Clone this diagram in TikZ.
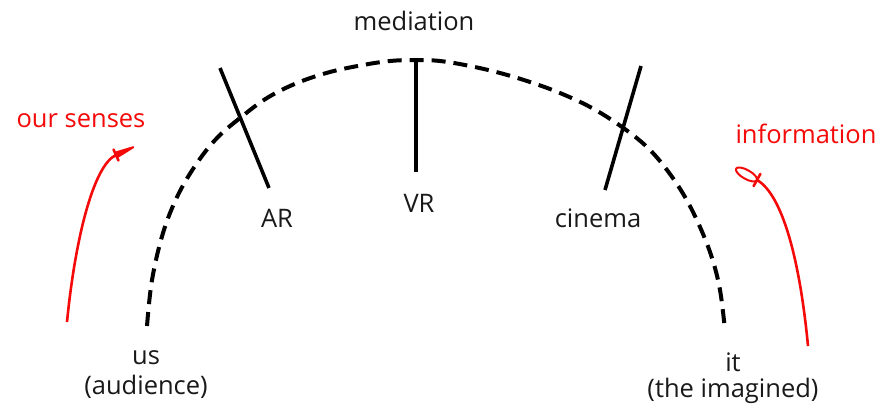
\documentclass[tikz,border=0pt]{standalone}
\usepackage{fontspec}
\setmainfont{Open Sans}
\definecolor{myred}{RGB}{245,10,10}
\definecolor{mytext}{RGB}{25,25,25}
\tikzset{
  lbl/.style={font=\fontsize{25.5}{30}\selectfont, text=mytext, inner sep=0pt, align=center},
  rlbl/.style={font=\fontsize{25.5}{30}\selectfont, text=myred, inner sep=0pt},
  arcline/.style={line width=4pt, dash pattern=on 14pt off 8pt},
  tick/.style={line width=3.6pt},
  redline/.style={myred, line width=2.6pt},
  redhead/.style={myred, line width=2pt, line join=round}
}
\begin{document}
\begin{tikzpicture}[x=1pt,y=-1pt]
\useasboundingbox (0,0) rectangle (880,408);
% dashed arc
\draw[arcline] plot[smooth, tension=0.6] coordinates {(147,326) (152,280) (163,233) (178,195) (197,163) (217,138) (240,118) (267,98) (297,83) (330,72) (363,65) (390,61) (415,60) (440,61) (470,66) (500,73) (530,82) (560,93) (592,108) (622,127) (647,147) (667,170) (685,197) (700,227) (712,258) (720,290) (725,330)};
% crossing lines
\coordinate (ar1) at (220,68);
\coordinate (ar2) at (269,188);
\coordinate (vr1) at (416,59);
\coordinate (vr2) at (416,172);
\coordinate (ci1) at (641,66);
\coordinate (ci2) at (605,190);
\draw[tick] (ar1) -- (ar2);
\draw[tick] (vr1) -- (vr2);
\draw[tick] (ci1) -- (ci2);
% labels
\node[lbl] (med) at (414,21) {mediation};
\node[lbl] (ar) at (277,218) {AR};
\node[lbl] (vr) at (419,203) {VR};
\node[lbl] (cin) at (598,218) {cinema};
\node[lbl] (us) at (146,358) {us};
\node[lbl] (aud) at (146,387) {(audience)};
\node[lbl] (it) at (733,362) {it};
\node[lbl] (img) at (733,391) {(the imagined)};
\node[rlbl] (sen) at (81,121) {our senses};
\node[rlbl] (inf) at (806,134) {information};
% left red arrow
\coordinate (ls) at (67,322);
\coordinate (lt) at (116,155);
\coordinate (ltip) at (133.3,147.2);
\coordinate (lk1) at (117,157.3);
\coordinate (lk2) at (115,152.7);
\coordinate (lb1) at (118.5,160.5);
\coordinate (lb2) at (113.5,149.5);
\draw[redline] (ls) .. controls (75,240) and (93.3,165.3) .. (lt);
\filldraw[redhead] (lk1) -- (ltip) -- (lk2) -- cycle;
\draw[redline, line cap=round] (lb1) -- (lb2);
% right red arrow
\coordinate (rs) at (808,346);
\coordinate (rt) at (757,180);
\coordinate (rb1) at (760.4,173.9);
\coordinate (rb2) at (753.6,186.1);
\draw[redline] (rs) .. controls (800,262) and (783,195) .. (rt);
\draw[redhead] plot[smooth cycle, tension=0.7] coordinates {(736.1,168.6) (740.7,167.6) (748.7,170.6) (755.4,175.9) (756.9,180.4) (752.3,181.4) (744.3,178.4) (737.6,173.1)};
\draw[redline, line cap=round] (rb1) -- (rb2);
\end{tikzpicture}
\end{document}
